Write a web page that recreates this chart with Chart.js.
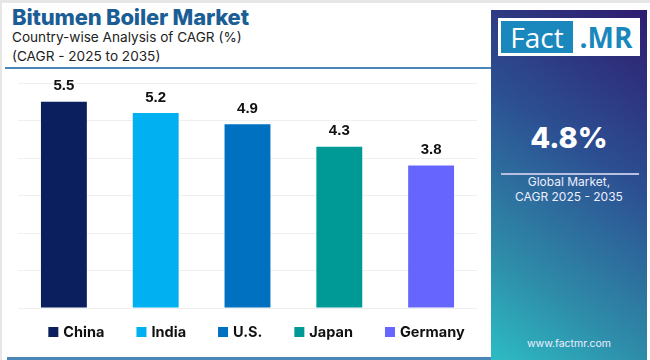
<!DOCTYPE html>
<html>
<head>
<meta charset="utf-8">
<script src="https://cdn.jsdelivr.net/npm/chart.js@4"></script>
<style>
  html, body { margin: 0; padding: 0; }
  body { width: 650px; height: 360px; position: relative; overflow: hidden; background: #ffffff; font-family: "Inter", "Open Sans", sans-serif; }
  #frame { position: absolute; left: 0; top: 0; width: 650px; height: 360px; box-sizing: border-box; border-top: 3px solid #e6e6e6; border-left: 2px solid #e6e6e6; }
  #title { position: absolute; left: 12px; top: 4px; font-size: 22px; font-weight: 800; color: #1b5e96; letter-spacing: -0.2px; }
  #sub1 { position: absolute; left: 12px; top: 29px; font-size: 13.6px; color: #222; }
  #sub2 { position: absolute; left: 12px; top: 48px; font-size: 13.6px; color: #222; }
  #rule { position: absolute; left: 5px; top: 67px; width: 487px; height: 2px; background: #4a86b8; }
  #bottomrule { position: absolute; left: 7px; top: 357px; width: 485px; height: 3px; background: #4a86b8; }
  #panel { position: absolute; left: 491px; top: 10px; width: 156px; height: 350px; background: linear-gradient(215deg, #2f1c6e 0%, #2c4f92 40%, #2e8aa8 75%, #2dbcc4 100%); }
  #logo { position: absolute; left: 7px; top: 8px; width: 142px; height: 38px; background: #fff; }
  #logoFact { position: absolute; left: 3px; top: 3px; width: 72px; height: 32px; background: #1a87bd; color: #fff; font-size: 28px; line-height: 32px; text-align: center; font-family: "Open Sans", sans-serif; }
  #logoMR { position: absolute; left: 76px; top: 3px; width: 64px; height: 32px; color: #1a87bd; font-size: 28px; line-height: 32px; font-weight: 700; text-align: center; font-family: "Open Sans", sans-serif; }
  #big { position: absolute; left: 0; width: 156px; top: 110px; text-align: center; color: #fff; font-size: 29px; font-weight: 800; }
  #pline { position: absolute; left: 10px; top: 163px; width: 138px; height: 2px; background: #b7c0e0; }
  #ptext { position: absolute; left: 0; width: 156px; top: 164px; text-align: center; color: #eef; font-size: 12px; line-height: 15px; }
  #url { position: absolute; left: 0; width: 156px; top: 327px; text-align: center; color: #eef; font-size: 10.5px; }
  #wrap { position: absolute; left: 0; top: 70px; width: 490px; height: 286px; }
</style>
</head>
<body>
<div id="frame"></div>
<div id="title">Bitumen Boiler Market</div>
<div id="sub1">Country-wise Analysis of CAGR (%)</div>
<div id="sub2">(CAGR - 2025 to 2035)</div>
<div id="rule"></div>
<div id="bottomrule"></div>
<div id="panel">
  <div id="logo"><div id="logoFact">Fact</div><div id="logoMR">.MR</div></div>
  <div id="big">4.8%</div>
  <div id="pline"></div>
  <div id="ptext">Global Market,<br>CAGR 2025 - 2035</div>
  <div id="url">www.factmr.com</div>
</div>
<div id="wrap"><canvas id="c"></canvas></div>
<script>
const categories = ["China", "India", "U.S.", "Japan", "Germany"];
const cagrValues = [5.5, 5.2, 4.9, 4.3, 3.8];
const barColors = ["#0b1f5e", "#00b0f0", "#0070c0", "#009a96", "#6666ff"];
const axisMax = 6;

const valueLabels = {
  id: "valueLabels",
  afterDatasetsDraw(chart) {
    const ctx = chart.ctx;
    const meta = chart.getDatasetMeta(0);
    ctx.save();
    ctx.font = "bold 15px 'Liberation Sans', Arial, sans-serif";
    ctx.fillStyle = "#111";
    ctx.textAlign = "center";
    ctx.textBaseline = "bottom";
    meta.data.forEach((bar, i) => {
      ctx.fillText(cagrValues[i].toFixed(1), bar.x, bar.y - 8);
    });
    ctx.restore();
  }
};

// Legend drawn below the plot from the chart's own labels and colours
const bottomLegend = {
  id: "bottomLegend",
  afterDraw(chart) {
    const ctx = chart.ctx;
    const labels = chart.data.labels;
    const colors = chart.data.datasets[0].backgroundColor;
    const box = 10, gapText = 5, gapItem = 32;
    ctx.save();
    ctx.font = "bold 14.5px Inter, 'Open Sans', sans-serif";
    const widths = labels.map(l => box + gapText + ctx.measureText(l).width);
    const total = widths.reduce((a, b) => a + b, 0) + gapItem * (labels.length - 1);
    let x = (chart.chartArea.left + chart.chartArea.right) / 2 + 9 - total / 2;
    const cy = chart.chartArea.bottom + 24;
    ctx.textBaseline = "middle";
    ctx.textAlign = "left";
    labels.forEach((l, i) => {
      ctx.fillStyle = colors[i];
      ctx.fillRect(x, cy - box / 2, box, box);
      ctx.fillStyle = "#111";
      ctx.fillText(l, x + box + gapText, cy + 1);
      x += widths[i] + gapItem;
    });
    ctx.restore();
  }
};

new Chart(document.getElementById("c"), {
  type: "bar",
  data: {
    labels: categories,
    datasets: [{
      data: cagrValues,
      backgroundColor: barColors,
      borderWidth: 0,
      barPercentage: 0.5,
      categoryPercentage: 1.0
    }]
  },
  options: {
    responsive: true,
    maintainAspectRatio: false,
    animation: false,
    layout: { padding: { left: 18, right: 13, top: 13, bottom: 40 } },
    plugins: {
      tooltip: { enabled: false },
      legend: { display: false }
    },
    scales: {
      x: {
        grid: { display: false },
        border: { display: false },
        ticks: { display: false }
      },
      y: {
        min: 0,
        max: axisMax,
        ticks: { display: false, stepSize: 1 },
        grid: { color: "#efefef", drawTicks: false },
        border: { display: false }
      }
    }
  },
  plugins: [valueLabels, bottomLegend]
});
</script>
</body>
</html>
